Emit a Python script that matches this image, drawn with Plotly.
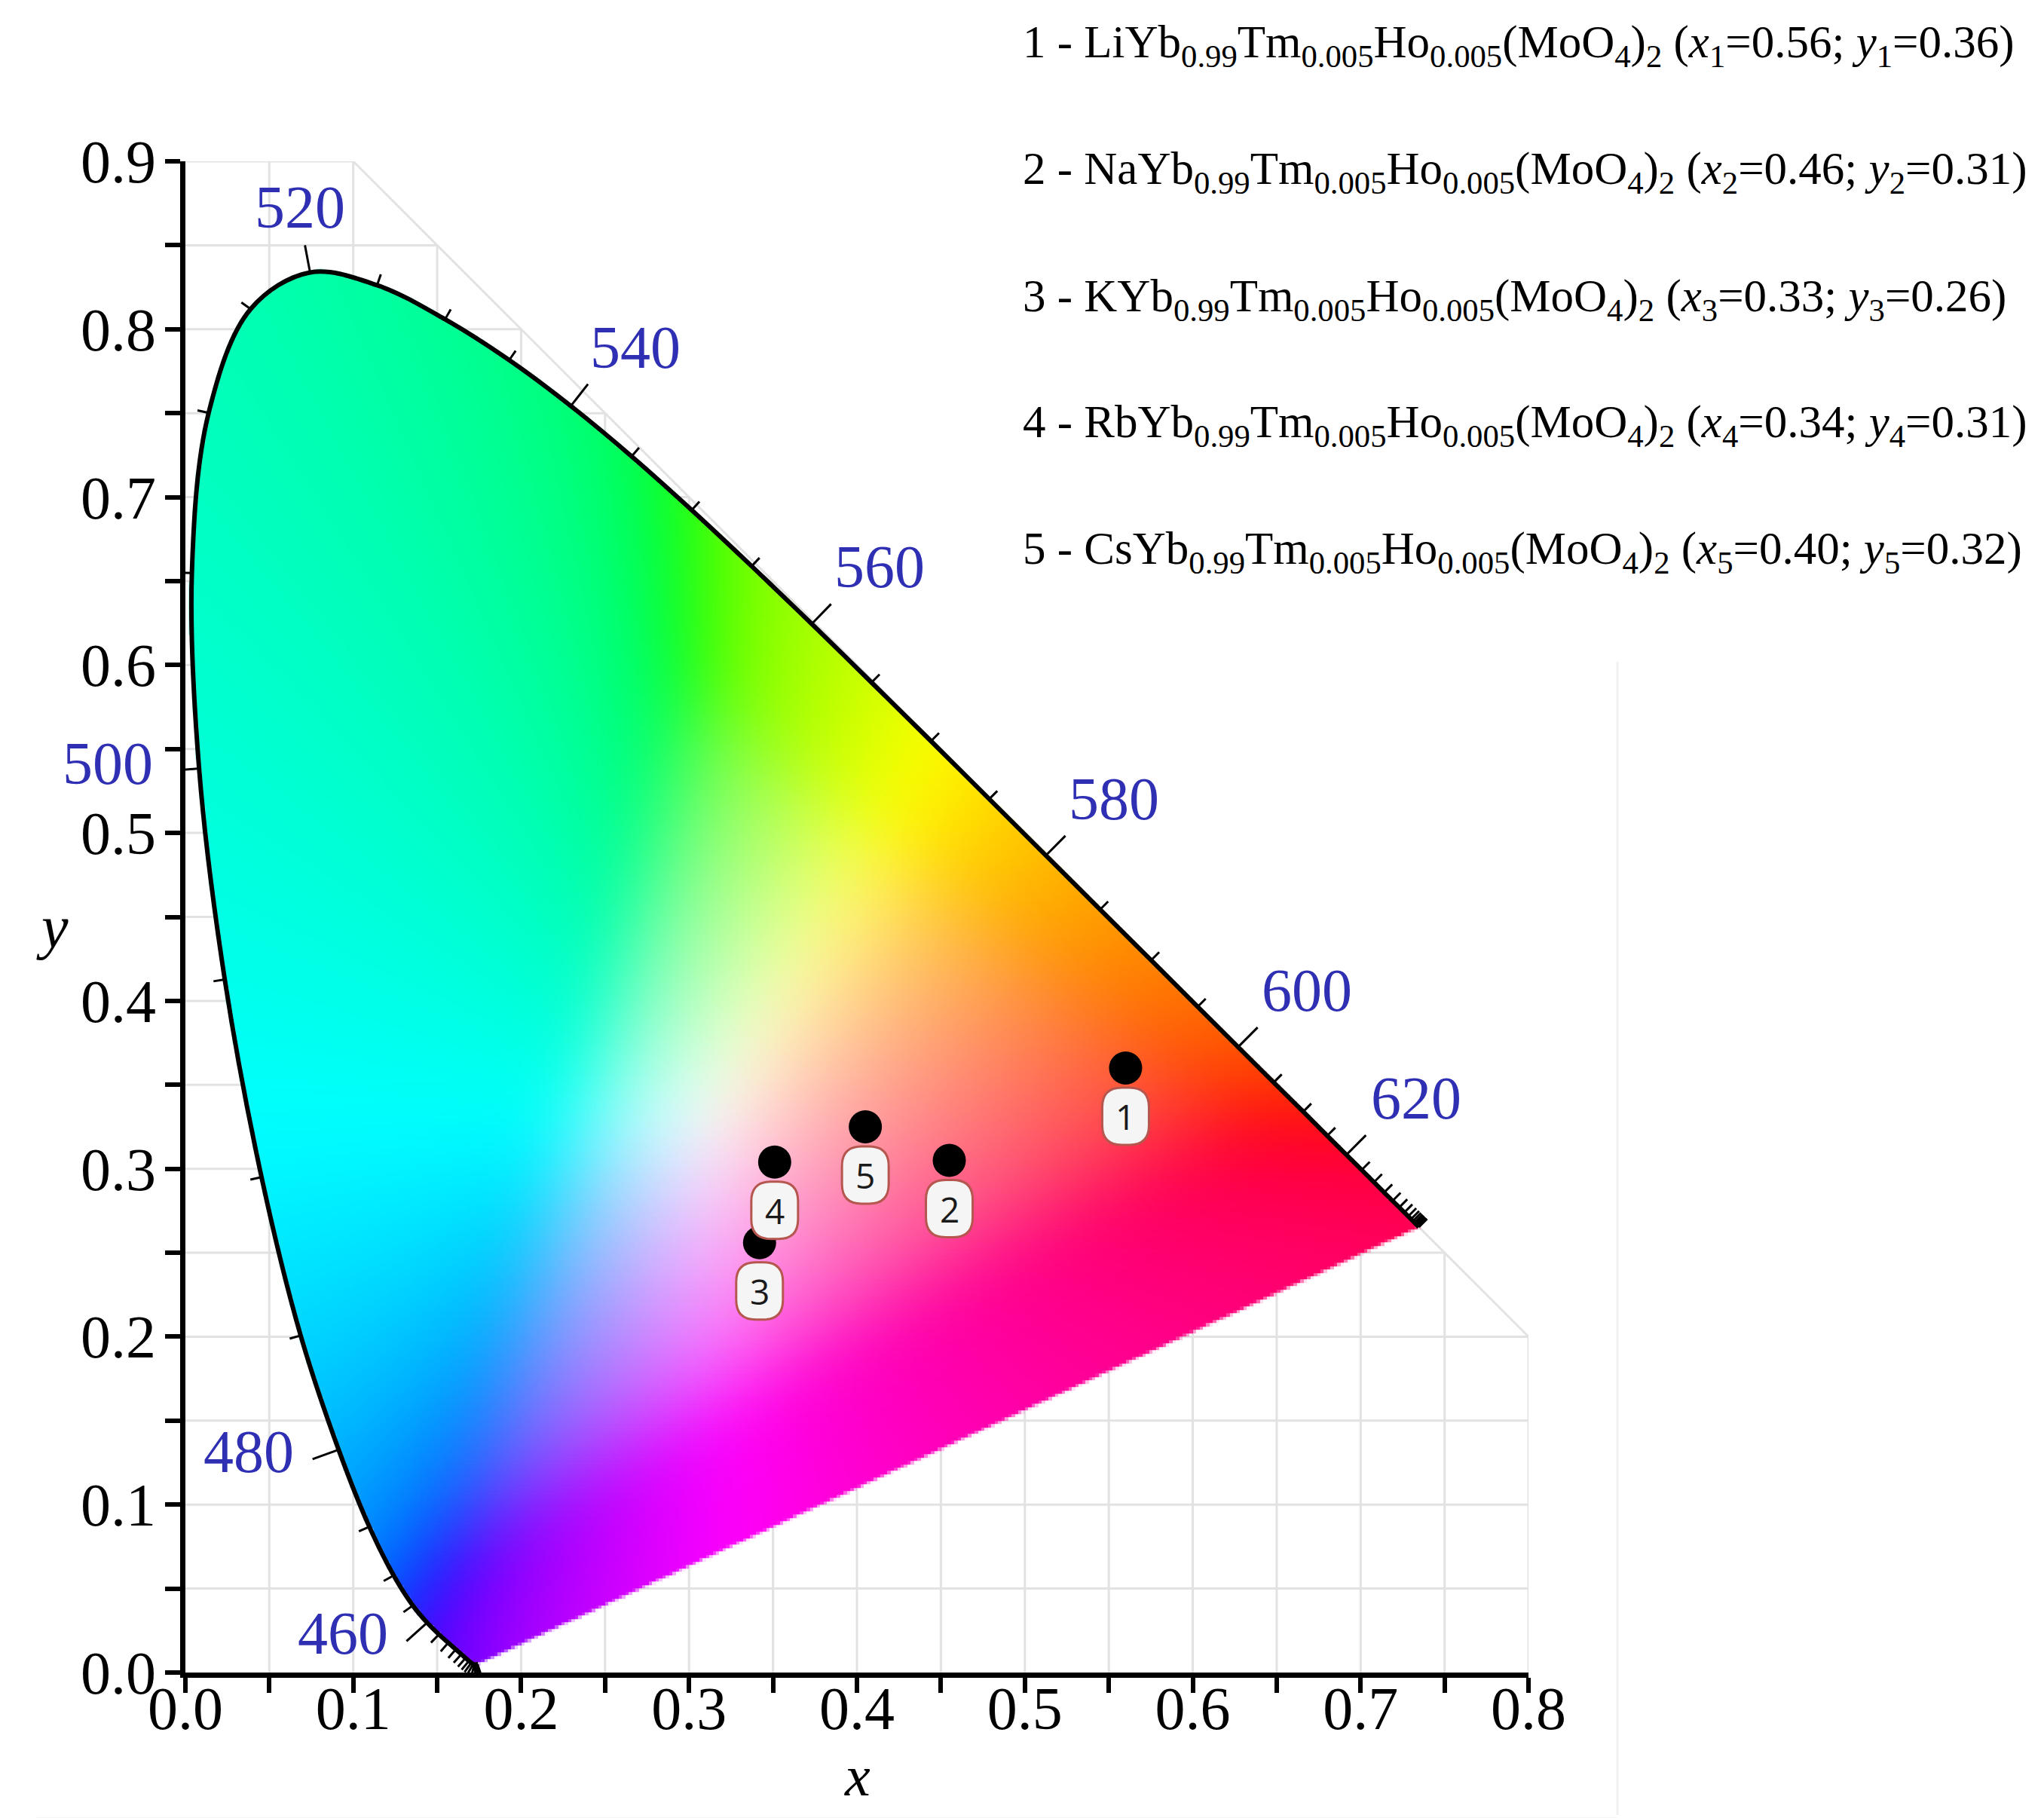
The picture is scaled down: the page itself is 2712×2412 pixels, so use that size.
import numpy as np
import plotly.graph_objects as go

# CIE 1931 2° spectral locus, 380-700 nm every 5 nm
WAVELENGTHS = list(range(380, 705, 5))
LOCUS_X = [0.1741, 0.1740, 0.1738, 0.1736, 0.1733, 0.1730, 0.1726, 0.1721, 0.1714, 0.1703,
           0.1689, 0.1669, 0.1644, 0.1611, 0.1566, 0.1510, 0.1440, 0.1355, 0.1241, 0.1096,
           0.0913, 0.0687, 0.0454, 0.0235, 0.0082, 0.0039, 0.0139, 0.0389, 0.0743, 0.1142,
           0.1547, 0.1929, 0.2296, 0.2658, 0.3016, 0.3373, 0.3731, 0.4087, 0.4441, 0.4788,
           0.5125, 0.5448, 0.5752, 0.6029, 0.6270, 0.6482, 0.6658, 0.6801, 0.6915, 0.7006,
           0.7079, 0.7140, 0.7190, 0.7230, 0.7260, 0.7283, 0.7300, 0.7311, 0.7320, 0.7327,
           0.7334, 0.7340, 0.7344, 0.7346, 0.7347]
LOCUS_Y = [0.0050, 0.0050, 0.0049, 0.0049, 0.0048, 0.0048, 0.0048, 0.0048, 0.0051, 0.0058,
           0.0069, 0.0086, 0.0109, 0.0138, 0.0177, 0.0227, 0.0297, 0.0399, 0.0578, 0.0868,
           0.1327, 0.2007, 0.2950, 0.4127, 0.5384, 0.6548, 0.7502, 0.8120, 0.8338, 0.8262,
           0.8059, 0.7816, 0.7543, 0.7243, 0.6923, 0.6589, 0.6245, 0.5896, 0.5547, 0.5202,
           0.4866, 0.4544, 0.4242, 0.3965, 0.3725, 0.3514, 0.3340, 0.3197, 0.3083, 0.2993,
           0.2920, 0.2859, 0.2809, 0.2770, 0.2740, 0.2717, 0.2700, 0.2689, 0.2680, 0.2673,
           0.2666, 0.2660, 0.2656, 0.2654, 0.2653]
LABELED_WL = [460, 480, 500, 520, 540, 560, 580, 600, 620]

# samples
CATIONS = ['Li', 'Na', 'K', 'Rb', 'Cs']
LIST_X = [0.56, 0.46, 0.33, 0.34, 0.40]
LIST_Y = [0.36, 0.31, 0.26, 0.31, 0.32]
# dots as they sit in the picture
POINT_X = [0.560, 0.455, 0.342, 0.351, 0.405]
POINT_Y = [0.360, 0.305, 0.256, 0.304, 0.325]
POINT_NO = ['1', '2', '3', '4', '5']

X_TICKS = [0.0, 0.1, 0.2, 0.3, 0.4, 0.5, 0.6, 0.7, 0.8]
Y_TICKS = [0.0, 0.1, 0.2, 0.3, 0.4, 0.5, 0.6, 0.7, 0.8, 0.9]
X_RANGE = [0, 0.8]
Y_RANGE = [0, 0.9]

# page geometry (px)
W, H = 2712, 2412
ML, MR, MT, MB = 235, 689, 206, 201
PW, PH = W - ML - MR, H - MT - MB


def px(xp):
    return (xp - ML) / PW


def py(yp):
    return (H - MB - yp) / PH


SERIF = 'Liberation Serif'
BLUE = '#2f2fb4'
SMOOTH = 1.0


def inside_poly(X, Y, pxs, pys):
    res = np.zeros(X.shape, bool)
    j = len(pxs) - 1
    for i in range(len(pxs)):
        xi, yi, xj, yj = pxs[i], pys[i], pxs[j], pys[j]
        if yi != yj:
            res ^= ((yi > Y) != (yj > Y)) & (X < (xj - xi) * (Y - yi) / (yj - yi) + xi)
        j = i
    return res


def spline_outline(xs, ys, s, n=16):
    # same construction plotly uses for line.shape='spline', sampled for the fill mask
    pts = np.column_stack([xs, ys])
    tan = []
    for i in range(1, len(pts) - 1):
        d1 = pts[i - 1] - pts[i]
        d2 = pts[i + 1] - pts[i]
        a1 = np.hypot(*d1) ** 0.5
        a2 = np.hypot(*d2) ** 0.5
        num = (a2 * a2 * d1 - a1 * a1 * d2) * s
        tan.append((pts[i] + num / (3 * a2 * (a1 + a2)), pts[i] - num / (3 * a1 * (a1 + a2))))
    t = np.linspace(0, 1, n, endpoint=False)[:, None]
    out = []
    # first quadratic
    p0, c, p1 = pts[0], tan[0][0], pts[1]
    out.append((1 - t) ** 2 * p0 + 2 * (1 - t) * t * c + t ** 2 * p1)
    for i in range(2, len(pts) - 1):
        p0, c1, c2, p1 = pts[i - 1], tan[i - 2][1], tan[i - 1][0], pts[i]
        out.append((1 - t) ** 3 * p0 + 3 * (1 - t) ** 2 * t * c1 + 3 * (1 - t) * t ** 2 * c2
                   + t ** 3 * p1)
    p0, c, p1 = pts[-2], tan[-1][1], pts[-1]
    out.append((1 - t) ** 2 * p0 + 2 * (1 - t) * t * c + t ** 2 * p1)
    out.append(pts[-1][None, :])
    out = np.vstack(out)
    return out[:, 0], out[:, 1]


def blur(a, sigma):
    k = np.arange(-int(3 * sigma), int(3 * sigma) + 1)
    ker = np.exp(-0.5 * (k / sigma) ** 2)
    ker /= ker.sum()
    m = len(k) // 2
    p = np.pad(a, ((m, m), (0, 0)), mode='edge')
    a = np.apply_along_axis(lambda v: np.convolve(v, ker, mode='valid'), 0, p)
    p = np.pad(a, ((0, 0), (m, m)), mode='edge')
    return np.apply_along_axis(lambda v: np.convolve(v, ker, mode='valid'), 1, p)


# 色域填充
step = 0.002
ss = 4
gx = np.arange(0, 0.742, step) + step / 2
gy = np.arange(0, 0.842, step) + step / 2
XX, YY = np.meshgrid(gx, gy)

mask_x, mask_y = spline_outline(LOCUS_X, LOCUS_Y, SMOOTH)
off = (np.arange(ss) + 0.5) / ss * step - step / 2
fx = (gx[:, None] + off[None, :]).ravel()
fy = (gy[:, None] + off[None, :]).ravel()
FX, FY = np.meshgrid(fx, fy)
cover = inside_poly(FX, FY, mask_x, mask_y).astype(float)
cover = cover.reshape(len(gy), ss, len(gx), ss).mean(axis=(1, 3))
alpha = np.round(cover * 255).astype(int)

Yc = np.maximum(YY, 0.02)
Xc = XX / Yc
Zc = (1 - XX - YY) / Yc
r = 3.2406 * Xc - 1.5372 - 0.4986 * Zc
g = -0.9689 * Xc + 1.8758 + 0.0415 * Zc
b = 0.0557 * Xc - 0.2040 + 1.0570 * Zc
rgb = np.stack([r, g, b], -1)
rgb = rgb - np.minimum(rgb.min(-1, keepdims=True), 0)
rgb = rgb / rgb.max(-1, keepdims=True)
rgb = np.where(rgb > 0.0031308, 1.055 * np.abs(rgb) ** (1 / 2.4) - 0.055, 12.92 * rgb)
rgb = np.dstack([blur(rgb[..., c], 10) for c in range(3)])
rgb8 = np.clip(np.round(rgb * 255), 0, 255).astype(int)
z = np.dstack([rgb8, alpha]).tolist()

fig = go.Figure()

fig.add_trace(go.Image(z=z, colormodel='rgba', zmin=[0, 0, 0, 0], zmax=[255, 255, 255, 255],
                       x0=step / 2, dx=step, y0=step / 2, dy=step,
                       zsmooth='fast', hoverinfo='skip'))

# spectral locus outline
fig.add_trace(go.Scatter(x=LOCUS_X, y=LOCUS_Y, mode='lines',
                         line=dict(color='black', width=6, shape='spline', smoothing=SMOOTH,
                                   simplify=False),
                         hoverinfo='skip'))

# wavelength ticks (outward normals)
lx, ly = np.array(LOCUS_X), np.array(LOCUS_Y)
tx, ty = np.gradient(lx), np.gradient(ly)
nl = np.hypot(tx, ty)
nx, ny = -ty / nl, tx / nl
tick_x, tick_y = [], []
for k, wl in enumerate(WAVELENGTHS):
    L = 0.0165 if wl in LABELED_WL else 0.0068
    tick_x += [lx[k], lx[k] + nx[k] * L, None]
    tick_y += [ly[k], ly[k] + ny[k] * L, None]
fig.add_trace(go.Scatter(x=tick_x, y=tick_y, mode='lines',
                         line=dict(color='black', width=3), hoverinfo='skip'))

for wl in LABELED_WL:
    k = WAVELENGTHS.index(wl)
    ex, ey = lx[k] + nx[k] * 0.0165, ly[k] + ny[k] * 0.0165
    if nx[k] > 0.3:
        xa, ya, xs, ys = 'left', 'bottom', 2, 3
    elif nx[k] < -0.3:
        xa, ya, xs, ys = 'right', 'middle', -20, 10
    else:
        xa, ya, xs, ys = 'center', 'bottom', -4, 4
    # paper coordinates so labels left of the y axis are kept
    fig.add_annotation(xref='paper', yref='paper',
                       x=(ex - X_RANGE[0]) / (X_RANGE[1] - X_RANGE[0]),
                       y=(ey - Y_RANGE[0]) / (Y_RANGE[1] - Y_RANGE[0]),
                       text=str(wl), showarrow=False, xanchor=xa, yanchor=ya,
                       xshift=xs, yshift=ys, font=dict(family=SERIF, size=80, color=BLUE))

# sample dots
fig.add_trace(go.Scatter(x=POINT_X, y=POINT_Y, mode='markers',
                         marker=dict(size=44, color='black'), hoverinfo='skip'))

# grid only inside x + y <= 1
shapes = []
grid_line = dict(color='#e2e2e2', width=3)
for gxl in np.arange(0.05, 0.801, 0.05):
    shapes.append(dict(type='line', xref='x', yref='y', x0=gxl, x1=gxl, y0=0,
                       y1=min(0.9, 1 - gxl), layer='below', line=grid_line))
for gyl in np.arange(0.05, 0.901, 0.05):
    shapes.append(dict(type='line', xref='x', yref='y', x0=0, x1=min(0.8, 1 - gyl),
                       y0=gyl, y1=gyl, layer='below', line=grid_line))
shapes.append(dict(type='line', xref='x', yref='y', x0=0.1, y0=0.9, x1=0.8, y1=0.2,
                   layer='below', line=grid_line))

# number chips under the dots
hw, hh, rr, cy = 31, 38, 26, -64
top, bot = cy + hh, cy - hh
chip = (f"M {-hw + rr},{top} L {hw - rr},{top} Q {hw},{top} {hw},{top - rr} "
        f"L {hw},{bot + rr} Q {hw},{bot} {hw - rr},{bot} L {-hw + rr},{bot} "
        f"Q {-hw},{bot} {-hw},{bot + rr} L {-hw},{top - rr} Q {-hw},{top} {-hw + rr},{top} Z")
for xp, yp, no in zip(POINT_X, POINT_Y, POINT_NO):
    shapes.append(dict(type='path', xref='x', yref='y', xsizemode='pixel', ysizemode='pixel',
                       xanchor=xp, yanchor=yp, path=chip, layer='above',
                       fillcolor='#f5f5f5', line=dict(color='#b5574f', width=3)))
    fig.add_annotation(x=xp, y=yp, yshift=cy, text=no, showarrow=False,
                       font=dict(family='Open Sans', size=46, color='#1a1a1a'))

# faint frame left over from the scan
shapes.append(dict(type='line', xref='paper', yref='paper', x0=px(2138), x1=px(2138),
                   y0=py(870), y1=py(2400), line=dict(color='#f1f1f1', width=3)))
shapes.append(dict(type='line', xref='paper', yref='paper', x0=px(40), x1=px(2138),
                   y0=py(2405), y1=py(2405), line=dict(color='#eeeeee', width=3)))

# legend text
legend_y = [52, 220, 389, 556, 724]
for i, cat in enumerate(CATIONS):
    txt = (f"{i + 1} - {cat}Yb<sub>0.99</sub>Tm<sub>0.005</sub>Ho<sub>0.005</sub>"
           f"(MoO<sub>4</sub>)<sub>2</sub> (<i>x</i><sub>{i + 1}</sub>={LIST_X[i]:.2f}; "
           f"<i>y</i><sub>{i + 1}</sub>={LIST_Y[i]:.2f})")
    fig.add_annotation(xref='paper', yref='paper', x=px(1347), y=py(legend_y[i]), text=txt,
                       showarrow=False, xanchor='left', yanchor='middle',
                       font=dict(family=SERIF, size=61, color='black'))

# axis titles
fig.add_annotation(xref='paper', yref='paper', x=0.5, y=py(2392), text='<i>x</i>',
                   showarrow=False, font=dict(family=SERIF, size=76, color='black'))
fig.add_annotation(xref='paper', yref='paper', x=px(38), y=py(1222), text='<i>y</i>',
                   showarrow=False, font=dict(family=SERIF, size=80, color='black'))

axis_common = dict(showgrid=False, zeroline=False, showline=True, linecolor='black',
                   linewidth=7, ticks='outside', ticklen=20, tickwidth=6, tickcolor='black',
                   tickfont=dict(family=SERIF, size=80, color='black'),
                   minor=dict(dtick=0.05, tick0=0, ticks='outside', ticklen=20, tickwidth=6,
                              tickcolor='black', showgrid=False))

fig.update_layout(
    width=W, height=H,
    margin=dict(l=ML, r=MR, t=MT, b=MB),
    paper_bgcolor='white', plot_bgcolor='white',
    showlegend=False, hovermode=False,
    shapes=shapes,
    xaxis=dict(range=X_RANGE, autorange=False, tickvals=X_TICKS, ticklabelstandoff=-48,
               ticktext=[f"{v:.1f}" for v in X_TICKS], **axis_common),
    yaxis=dict(range=Y_RANGE, autorange=False, tickvals=Y_TICKS, ticklabelstandoff=-4,
               ticktext=[f"{v:.1f}" for v in Y_TICKS], **axis_common),
)

fig.write_html("out.html")
